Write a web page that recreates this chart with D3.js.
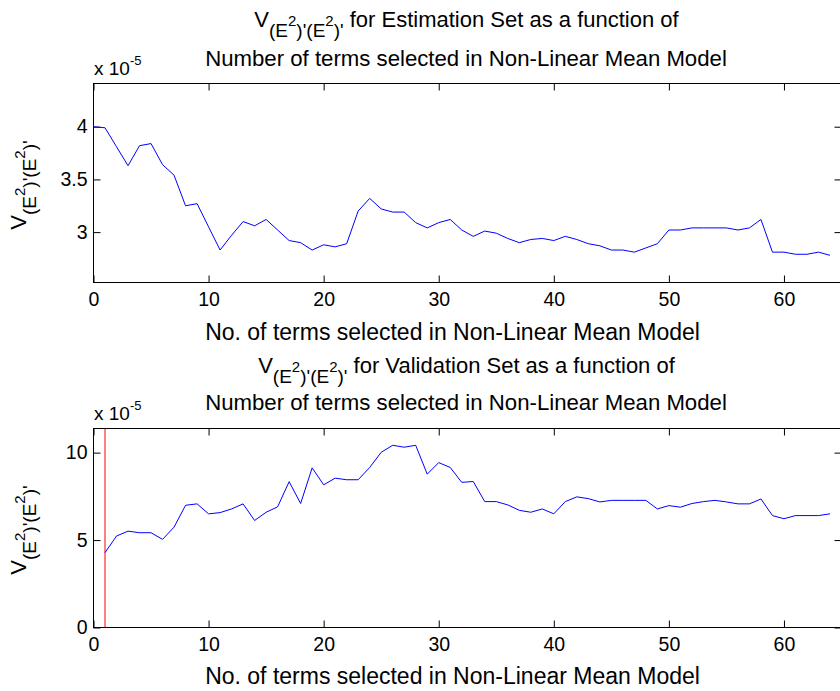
<!DOCTYPE html>
<html><head><meta charset="utf-8">
<script src="https://cdn.jsdelivr.net/npm/d3@7/dist/d3.min.js"></script>
<style>
html,body{margin:0;padding:0;background:#fff;}
svg{display:block;font-family:"Liberation Sans",Arial,Helvetica,sans-serif;}
</style></head>
<body>
<svg id="chart" width="840" height="691"></svg>
<script>
// ---- data (values in units of 1e-5) ----
const xTicks = [0, 10, 20, 30, 40, 50, 60];
const estTicks = [3, 3.5, 4];
const valTicks = [0, 5, 10];
const estStartTerm = 0;
const estValues = [4.00,3.99,3.81,3.63,3.82,3.84,3.64,3.54,3.25,3.27,3.05,2.83,2.97,3.10,3.06,3.12,3.02,2.92,2.90,2.83,
  2.88,2.86,2.89,3.20,3.32,3.22,3.19,3.19,3.09,3.04,3.09,3.12,3.02,2.96,3.01,2.99,2.94,2.90,2.93,2.94,
  2.92,2.96,2.93,2.89,2.87,2.83,2.83,2.81,2.85,2.89,3.02,3.02,3.04,3.04,3.04,3.04,3.02,3.04,3.12,2.81,
  2.81,2.79,2.79,2.81,2.78];
const valStartTerm = 1;
const valValues = [4.28,5.23,5.51,5.42,5.42,5.04,5.74,6.99,7.07,6.50,6.57,6.78,7.07,6.12,6.59,6.90,8.34,7.09,9.13,8.16,
  8.54,8.45,8.45,9.15,10.02,10.42,10.31,10.42,8.77,9.43,9.15,8.30,8.35,7.20,7.20,7.01,6.70,6.59,6.78,6.50,
  7.20,7.47,7.37,7.18,7.27,7.27,7.27,7.27,6.78,6.97,6.88,7.09,7.20,7.27,7.18,7.07,7.07,7.35,6.40,6.22,
  6.40,6.40,6.40,6.50];
const selectedTerm = 1;
const xDomain = [0, 65];
const estDomain = [2.522, 4.41];
const valDomain = [0, 11.38];
const estTitle = "for Estimation Set as a function of";
const valTitle = "for Validation Set as a function of";
const title2 = "Number of terms selected in Non-Linear Mean Model";
const xLabel = "No. of terms selected in Non-Linear Mean Model";

const svg = d3.select("#chart");
const L = 93.5, R = 841.5;
const x = d3.scaleLinear().domain(xDomain).range([L, R]);

function vText(sel, size, subSize, supSize) {
  // V_{(E^2)'(E^2)'}
  const down = size * 0.45, up = size * 0.5;
  sel.append("tspan").text("V");
  sel.append("tspan").attr("font-size", subSize).attr("dy", down).text("(E");
  sel.append("tspan").attr("font-size", supSize).attr("dy", -up).text("2");
  sel.append("tspan").attr("font-size", subSize).attr("dy", up).text(")'(E");
  sel.append("tspan").attr("font-size", supSize).attr("dy", -up).text("2");
  sel.append("tspan").attr("font-size", subSize).attr("dy", up).text(")'");
  return down;
}

function panel(cfg) {
  const y = d3.scaleLinear().domain(cfg.yDomain).range([cfg.bottom, cfg.top]);
  const g = svg.append("g");
  const T = 7;
  // ticks inward on four sides
  g.append("g").attr("transform", `translate(0,${cfg.bottom})`)
    .call(d3.axisTop(x).tickValues(xTicks).tickSize(T).tickFormat(""))
    .call(a => a.select(".domain").remove());
  g.append("g").attr("transform", `translate(0,${cfg.top})`)
    .call(d3.axisBottom(x).tickValues(xTicks).tickSize(T).tickFormat(""))
    .call(a => a.select(".domain").remove());
  g.append("g").attr("transform", `translate(${L},0)`)
    .call(d3.axisRight(y).tickValues(cfg.yTicks).tickSize(T).tickFormat(""))
    .call(a => a.select(".domain").remove());
  g.append("g").attr("transform", `translate(${R},0)`)
    .call(d3.axisLeft(y).tickValues(cfg.yTicks).tickSize(T).tickFormat(""))
    .call(a => a.select(".domain").remove());
  g.selectAll(".tick line").attr("stroke", "#000").attr("stroke-width", 1);
  // tick labels
  g.append("g").attr("transform", `translate(0,${cfg.bottom})`)
    .call(d3.axisBottom(x).tickValues(xTicks).tickSize(0).tickPadding(10).tickFormat(d3.format("d")))
    .call(a => a.select(".domain").remove())
    .selectAll("text").attr("font-size", 19.5).attr("font-family", null).attr("fill", "#000");
  g.append("g").attr("transform", `translate(${L},0)`)
    .call(d3.axisLeft(y).tickValues(cfg.yTicks).tickSize(0).tickPadding(6).tickFormat(d => String(d)))
    .call(a => a.select(".domain").remove())
    .selectAll("text").attr("font-size", 19.5).attr("font-family", null).attr("fill", "#000");
  // box
  g.append("rect").attr("x", L).attr("y", cfg.top).attr("width", R - L).attr("height", cfg.bottom - cfg.top)
    .attr("fill", "none").attr("stroke", "#000").attr("stroke-width", 1);
  // red line
  if (cfg.marker != null) {
    g.append("line").attr("x1", x(cfg.marker)).attr("x2", x(cfg.marker))
      .attr("y1", cfg.bottom).attr("y2", cfg.top).attr("stroke", "#ff0000").attr("stroke-width", 1);
  }
  // data line
  const line = d3.line().x((d, i) => x(cfg.start + i)).y(d => y(d));
  g.append("path").datum(cfg.values).attr("d", line).attr("fill", "none")
    .attr("stroke", "#0000ff").attr("stroke-width", 1);
  // multiplier
  const m = g.append("text").attr("x", 94).attr("y", cfg.top - 9).attr("font-size", 19);
  m.append("tspan").text("x 10");
  m.append("tspan").attr("font-size", 13).attr("dy", -10).text("-5");
  // titles
  const t1 = g.append("text").attr("x", 466.5).attr("y", cfg.titleY1).attr("font-size", 22)
    .attr("text-anchor", "middle");
  const d = vText(t1, 22, 19, 15);
  t1.append("tspan").attr("dy", -d).text(" " + cfg.title);
  g.append("text").attr("x", 466).attr("y", cfg.titleY2).attr("font-size", 22.2)
    .attr("text-anchor", "middle").text(title2);
  g.append("text").attr("x", 452.5).attr("y", cfg.xLabelY).attr("font-size", 23)
    .attr("text-anchor", "middle").text(xLabel);
  // y label
  const yl = g.append("text").attr("transform", `translate(26,${(cfg.top + cfg.bottom) / 2 + 2}) rotate(-90)`)
    .attr("font-size", 22).attr("text-anchor", "middle");
  vText(yl, 22, 19, 15);
}

panel({top: 83.5, bottom: 282.5, yDomain: estDomain, yTicks: estTicks, values: estValues, start: estStartTerm,
  marker: null, title: estTitle, titleY1: 27, titleY2: 66, xLabelY: 340});
panel({top: 428.5, bottom: 627.5, yDomain: valDomain, yTicks: valTicks, values: valValues, start: valStartTerm,
  marker: selectedTerm, title: valTitle, titleY1: 373, titleY2: 410, xLabelY: 684});
</script>
</body></html>
